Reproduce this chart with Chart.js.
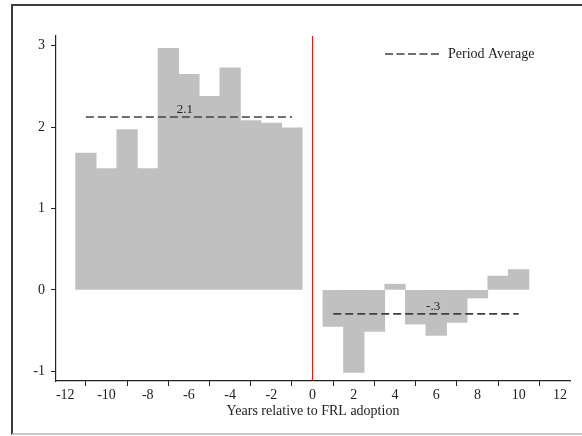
<!DOCTYPE html>
<html><head><meta charset="utf-8">
<script src="https://cdn.jsdelivr.net/npm/chart.js@4"></script>
<style>
html,body{margin:0;padding:0;background:#fff;}
#wrap{position:relative;width:582px;height:436px;overflow:hidden;background:#fff;}
#frame{position:absolute;left:11px;top:4px;width:600px;height:427px;border-left:2px solid #3c3c3c;border-top:2px solid #3c3c3c;border-bottom:2px solid #c8c8c8;pointer-events:none;}
canvas{position:absolute;left:0;top:0;}
</style></head>
<body><div id="wrap"><canvas id="c" width="582" height="436"></canvas><div id="frame"></div></div>
<script>
// ---- data ----
const preYears = [-11, -10, -9, -8, -7, -6, -5, -4, -3, -2, -1];
const preValues = [1.68, 1.49, 1.97, 1.49, 2.97, 2.65, 2.38, 2.73, 2.08, 2.05, 1.99];
const postYears = [1, 2, 3, 4, 5, 6, 7, 8, 9, 10];
const postValues = [-0.45, -1.015, -0.51, 0.07, -0.42, -0.56, -0.40, -0.10, 0.17, 0.25];
const periodAverages = [2.125, -0.295];
const averageLabels = ["2.1", "-.3"];
const averageLabelX = [-6.2, 5.85];
const xTicks = [-12, -10, -8, -6, -4, -2, 0, 2, 4, 6, 8, 10, 12];
const yTicks = [-1, 0, 1, 2, 3];
const adoptionYear = 0;
const xTitle = "Years relative to FRL adoption";
const legendText = "Period Average";

// ---- build ----
const FONT = '"Liberation Serif", "DejaVu Serif", serif';
const TXT = '#222222';
const toXY = (xs, ys) => xs.map((x, i) => ({x: x, y: ys[i]}));
const barStyle = {type: 'bar', backgroundColor: '#c0c0c0', borderWidth: 0,
  barPercentage: 1, categoryPercentage: 1, grouped: false, order: 3};
const lineStyle = {type: 'line', borderColor: '#404040', borderWidth: 1.6, borderDash: [8, 4],
  pointRadius: 0, fill: false, order: 1};

const annot = {
  id: 'annot',
  afterDatasetsDraw(chart) {
    const {ctx, scales: {x, y}, chartArea} = chart;
    ctx.save();
    // adoption line
    const px = x.getPixelForValue(adoptionYear);
    ctx.strokeStyle = '#ff0000'; ctx.lineWidth = 1;
    ctx.beginPath(); ctx.moveTo(px, chartArea.top); ctx.lineTo(px, chartArea.bottom); ctx.stroke();
    // average labels
    ctx.font = '13px ' + FONT; ctx.fillStyle = TXT;
    ctx.textAlign = 'center'; ctx.textBaseline = 'bottom';
    averageLabels.forEach((t, i) => ctx.fillText(t, x.getPixelForValue(averageLabelX[i]), y.getPixelForValue(periodAverages[i]) - 1));
    // legend
    const ly = chartArea.top + 18, lx = chartArea.right - 185;
    ctx.strokeStyle = '#404040'; ctx.lineWidth = 1.6; ctx.setLineDash([8, 3.5]);
    ctx.beginPath(); ctx.moveTo(lx, ly); ctx.lineTo(lx + 55, ly); ctx.stroke();
    ctx.setLineDash([]);
    ctx.textAlign = 'left'; ctx.textBaseline = 'middle'; ctx.font = '14px ' + FONT;
    ctx.fillText(legendText, lx + 63, ly);
    ctx.restore();
  }
};

new Chart(document.getElementById('c'), {
  type: 'bar',
  data: {
    datasets: [
      Object.assign({label: 'pre', data: toXY(preYears, preValues)}, barStyle),
      Object.assign({label: 'post', data: toXY(postYears, postValues)}, barStyle),
      Object.assign({label: 'avgPre', data: [{x: preYears[0], y: periodAverages[0]}, {x: preYears[preYears.length - 1], y: periodAverages[0]}]}, lineStyle),
      Object.assign({label: 'avgPost', data: [{x: postYears[0], y: periodAverages[1]}, {x: postYears[postYears.length - 1], y: periodAverages[1]}]}, lineStyle)
    ]
  },
  options: {
    responsive: false, animation: false, devicePixelRatio: 1,
    layout: {padding: {top: 36, right: 12, left: 0, bottom: 0}},
    plugins: {legend: {display: false}, tooltip: {enabled: false}},
    scales: {
      x: {
        type: 'linear', min: -12.45, max: 12.49, offset: false,
        afterBuildTicks: s => { s.ticks = xTicks.map(v => ({value: v})); },
        afterFit: s => { s.height = 55; },
        grid: {drawOnChartArea: false, drawTicks: true, tickLength: 5, color: '#222', lineWidth: 1},
        border: {display: true, color: '#222', width: 1.2},
        ticks: {font: {family: FONT, size: 14}, color: TXT, padding: 1, maxRotation: 0, autoSkip: false},
        title: {display: true, text: xTitle, font: {family: FONT, size: 14}, color: TXT, padding: {top: 0, bottom: 16}}
      },
      y: {
        type: 'linear', min: -1.12, max: 3.12,
        afterBuildTicks: s => { s.ticks = yTicks.map(v => ({value: v})); },
        afterFit: s => { s.width = 56; },
        grid: {drawOnChartArea: false, drawTicks: true, tickLength: 5, color: '#222', lineWidth: 1},
        border: {display: true, color: '#222', width: 1.2},
        ticks: {font: {family: FONT, size: 14}, color: TXT, padding: 6}
      }
    }
  },
  plugins: [annot]
});
</script>
</body></html>
